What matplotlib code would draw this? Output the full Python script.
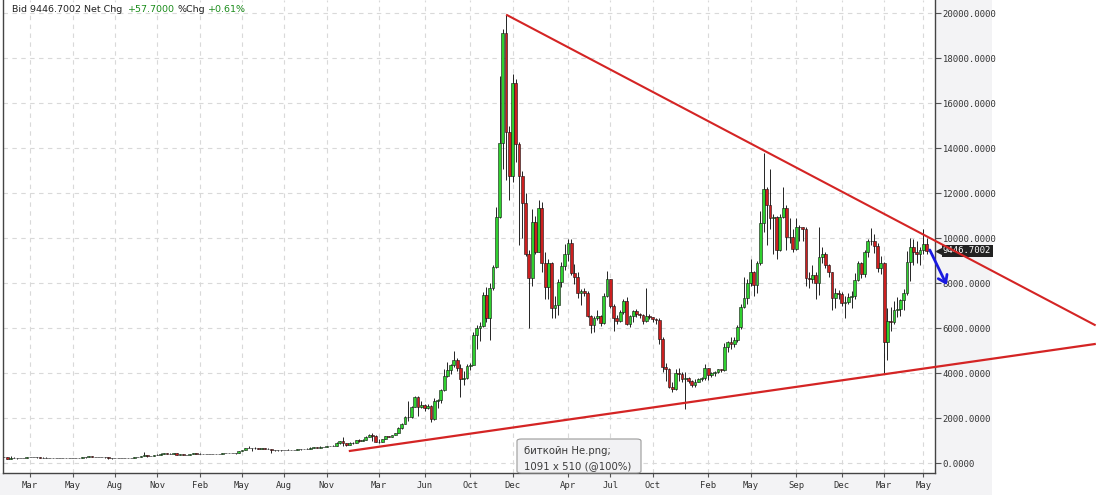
import matplotlib
matplotlib.use("Agg")
import matplotlib.pyplot as plt
import matplotlib.transforms as mtransforms
from matplotlib.patches import Rectangle, FancyBboxPatch

W, H = 1098, 495

# weekly candles (week index 0 = last week of Dec 2014), open = previous close
first_open = 317
closes = [
    264, 270, 205, 253, 227, 222, 235, 245, 275, 275,
    287, 261, 251, 255, 236, 223, 226, 240, 240, 237,
    240, 225, 228, 234, 245, 258, 272, 310, 275, 292,
    284, 265, 258, 230, 229, 240, 230, 232, 235, 240,
    247, 268, 285, 326, 385, 335, 325, 361, 390, 435,
    441, 422, 431, 448, 385, 402, 378, 375, 406, 437,
    433, 411, 415, 410, 416, 420, 419, 429, 460, 451,
    460, 456, 441, 527, 580, 690, 684, 665, 676, 650,
    667, 657, 624, 591, 570, 581, 574, 608, 609, 609,
    605, 614, 618, 641, 654, 701, 705, 702, 733, 735,
    764, 772, 790, 921, 998, 904, 820, 921, 915, 1022,
    998, 1051, 1150, 1270, 1230, 964, 960, 1083, 1194, 1180,
    1250, 1350, 1550, 1750, 2050, 2050, 2500, 2950, 2500, 2600,
    2450, 2550, 1950, 2750, 2800, 3250, 3900, 4150, 4350, 4600,
    4230, 3730, 3800, 4320, 4370, 5700, 6000, 6100, 7480, 6440,
    7780, 8740, 10960, 14250, 19140, 14740, 12780, 16890, 14190, 12780,
    11555, 9300, 8220, 10737, 9404, 11330, 8888, 7820, 8916, 6888,
    7035, 8071, 8768, 9301, 9777, 8443, 8293, 7583, 7657, 7583,
    6547, 6146, 6443, 6547, 6235, 7436, 8177, 6990, 6443, 6340,
    6740, 7214, 6176, 6547, 6784, 6636, 6590, 6340, 6547, 6490,
    6400, 6380, 5540, 4296, 4200, 3407, 3290, 4030, 3960, 3730,
    3790, 3650, 3460, 3600, 3730, 3780, 4253, 3925, 4000, 4070,
    4180, 4160, 5153, 5376, 5300, 5480, 6073, 6962, 7332, 8030,
    8520, 7920, 8888, 10693, 12178, 11480, 10890, 10960, 9480, 10960,
    11330, 10071, 10050, 9510, 10520, 10480, 10420, 8221, 8180, 8350,
    8000, 9183, 9300, 8813, 8490, 7333, 7555, 7540, 7140, 7180,
    7400, 7420, 8147, 8888, 8400, 9406, 9880, 9900, 9670, 8693,
    8916, 5377, 6325, 6290, 6818, 6860, 7259, 7555, 8933, 9630,
    9380, 9290, 9480, 9733, 9446.7,
]
highs = [
    320, 298, 272, 310, 265, 245, 242, 250, 282, 298,
    297, 294, 270, 263, 262, 237, 237, 242, 246, 245,
    243, 241, 232, 237, 254, 260, 274, 318, 315, 300,
    298, 286, 272, 262, 236, 242, 245, 236, 238, 242,
    250, 271, 290, 335, 502, 390, 337, 372, 408, 466,
    467, 462, 440, 460, 455, 410, 405, 380, 410, 440,
    445, 440, 423, 420, 420, 425, 425, 432, 464, 468,
    463, 462, 460, 530, 590, 700, 780, 690, 705, 680,
    680, 680, 660, 630, 600, 585, 590, 612, 630, 612,
    612, 618, 622, 645, 660, 705, 740, 725, 752, 742,
    772, 780, 800, 930, 1005, 1150, 910, 930, 925, 1035,
    1060, 1060, 1200, 1290, 1330, 1245, 1060, 1095, 1210, 1215,
    1260, 1360, 1600, 1800, 2100, 2790, 2550, 2980, 2980, 2780,
    2650, 2650, 2600, 2900, 2850, 3300, 4200, 4480, 4400, 4980,
    4700, 4400, 4100, 4400, 4450, 5850, 6150, 6300, 7600, 7850,
    8000, 8800, 11400, 17200, 19300, 19920, 15000, 17300, 17100, 14300,
    13000, 12000, 9500, 11300, 11000, 11700, 11600, 9400, 9100, 8950,
    7450, 8200, 8950, 9750, 9950, 9950, 8850, 8500, 7750, 7800,
    7650, 6600, 6550, 6800, 6600, 7550, 8560, 8200, 7100, 6600,
    6800, 7300, 7400, 6600, 6800, 6850, 6680, 6650, 7770, 6650,
    6500, 6450, 6450, 5600, 4450, 4250, 3600, 4200, 4250, 4050,
    4050, 3850, 3700, 3750, 3800, 3850, 4400, 4250, 4050, 4100,
    4200, 4200, 5350, 5450, 5600, 5600, 6150, 7100, 8300, 8200,
    9100, 8550, 9000, 11200, 13777, 12300, 13100, 11100, 11000, 11100,
    12300, 11500, 10900, 10400, 10900, 10600, 10500, 10500, 8500, 8800,
    8500, 10500, 9600, 9400, 8850, 8500, 7800, 7700, 7600, 7450,
    7550, 7650, 8450, 9000, 8950, 9500, 9950, 10470, 10200, 9800,
    9200, 8950, 6900, 6950, 7200, 7400, 7300, 7750, 9450, 10000,
    9950, 9900, 9600, 10400, 10000,
]
lows = [
    260, 262, 170, 200, 220, 212, 217, 230, 233, 268,
    270, 256, 237, 240, 234, 215, 217, 224, 233, 233,
    232, 222, 222, 226, 232, 242, 252, 265, 267, 273,
    275, 258, 253, 198, 200, 225, 225, 226, 226, 233,
    236, 245, 264, 282, 320, 300, 315, 320, 355, 386,
    430, 415, 418, 425, 362, 375, 362, 365, 372, 403,
    410, 403, 406, 405, 408, 412, 415, 418, 428, 447,
    440, 449, 435, 439, 526, 570, 680, 550, 620, 635,
    648, 652, 620, 480, 565, 565, 568, 570, 600, 602,
    595, 602, 605, 617, 635, 652, 685, 690, 700, 725,
    730, 755, 767, 788, 880, 760, 760, 820, 880, 908,
    950, 990, 1050, 1150, 975, 950, 890, 930, 1080, 1160,
    1175, 1240, 1340, 1540, 1740, 1900, 2020, 2480, 2100, 2450,
    2330, 2400, 1830, 1940, 2450, 2700, 3200, 3850, 3950, 4300,
    4100, 2960, 3500, 3750, 4150, 4350, 5100, 5450, 6050, 6300,
    5500, 7700, 8700, 10900, 13100, 12600, 11700, 12500, 13400, 9700,
    10000, 9200, 6000, 7900, 9300, 9400, 8500, 7300, 7300, 6450,
    6450, 6600, 7850, 8600, 9000, 8350, 7950, 7350, 7050, 7450,
    6500, 5800, 5850, 6350, 6100, 6200, 7400, 6900, 5900, 6200,
    6300, 6650, 6150, 6050, 6300, 6500, 6450, 6200, 6300, 6400,
    6300, 6200, 5300, 4050, 3650, 3350, 3150, 3250, 3650, 3600,
    2400, 3550, 3400, 3400, 3600, 3650, 3700, 3700, 3850, 3900,
    4000, 4050, 4100, 4950, 5100, 5150, 5400, 5950, 6900, 7100,
    7900, 7450, 7550, 8800, 10300, 9700, 10400, 9300, 9100, 9450,
    10900, 9500, 9800, 9400, 9500, 9900, 9900, 7900, 7800, 8000,
    7300, 7500, 8900, 8700, 8300, 6800, 6900, 7300, 7000, 6450,
    7100, 6900, 7300, 8100, 8250, 8300, 9150, 9700, 9350, 8500,
    8400, 4000, 4600, 5900, 6200, 6500, 6550, 6800, 7500, 8100,
    8800, 8900, 8800, 9300, 9300,
]

tick_weeks = [9, 22, 35, 48, 61, 74, 87, 100, 116, 130, 144, 157,
              174, 187, 200, 217, 230, 244, 258, 271, 283]
tick_labels = ["Mar", "May", "Aug", "Nov", "Feb", "May", "Aug", "Nov",
               "Mar", "Jun", "Oct", "Dec", "Apr", "Jul", "Oct", "Feb",
               "May", "Sep", "Dec", "Mar", "May"]
price_ticks = [0, 2000, 4000, 6000, 8000, 10000, 12000, 14000, 16000, 18000, 20000]

last_price = 9446.7002
net_chg = 57.7
pct_chg = 0.61

# hand drawn annotations: (week, price) end points
upper_trend = ([155.3, 335.6], [19920, 6150])
lower_trend = ([107.1, 335.6], [550, 5300])
arrow_from = (285.0, 9480)
arrow_to = (290.2, 7925)

opens = [first_open] + closes[:-1]
weeks = list(range(len(closes)))
up = [c >= o for o, c in zip(opens, closes)]
colors = ["#2fd02f" if u else "#cc1f1f" for u in up]
bottoms = [min(o, c) for o, c in zip(opens, closes)]
heights = [abs(c - o) for o, c in zip(opens, closes)]

mono = "DejaVu Sans Mono"

fig = plt.figure(figsize=(W / 100, H / 100), dpi=100)
fig.patch.set_facecolor("white")
# grey label strips
fig.add_artist(Rectangle((935 / W, 0), 57 / W, 1, transform=fig.transFigure,
                         fc="#f3f3f5", ec="none", zorder=-1))
fig.add_artist(Rectangle((0, 0), 935 / W, 22 / H, transform=fig.transFigure,
                         fc="#f3f3f5", ec="none", zorder=-1))

ax = fig.add_axes([3 / W, 22 / H, 932 / W, 1 - 22 / H])
ax.set_facecolor("white")

ax.vlines(weeks, lows, highs, color="black", lw=0.6, zorder=2)
ax.bar(weeks, heights, bottom=bottoms, width=0.86, color=colors,
       edgecolor="#111111", linewidth=0.4, zorder=3)

ax.set_xlim(0.67, 286.6)
ax.set_ylim(-431, 20590)

ax.set_xticks(tick_weeks)
ax.set_xticklabels(tick_labels, fontfamily=mono, fontsize=6.4, color="#333333")
ax.set_yticks(price_ticks)
ax.set_yticklabels([f"{v:.4f}" for v in price_ticks], fontfamily=mono,
                   fontsize=6.4, color="#333333")
ax.yaxis.tick_right()
ax.tick_params(axis="y", direction="out", length=4, width=0.8, color="#555555", pad=1.5)
ax.tick_params(axis="x", direction="out", length=3, width=0.8, color="#555555", pad=3)

ax.grid(True, color="#d9d9d9", linestyle=(0, (4, 4)), lw=0.8, zorder=0)
ax.set_axisbelow(True)
for side in ["left", "bottom", "right"]:
    ax.spines[side].set_color("#444444")
    ax.spines[side].set_linewidth(1.0)
ax.spines["top"].set_visible(False)

# trend lines
ax.plot(*upper_trend, color="#d42424", lw=1.5, clip_on=False, zorder=6)
ax.plot(*lower_trend, color="#d42424", lw=1.6, clip_on=False, zorder=6)

ax.annotate("", xy=arrow_to, xytext=arrow_from,
            arrowprops=dict(arrowstyle="->,head_length=0.5,head_width=0.35",
                            color="#1a1ae0", lw=2.0, shrinkA=0, shrinkB=0),
            annotation_clip=False, zorder=7)

# last price tag on the price axis
blend = mtransforms.blended_transform_factory(ax.transAxes, ax.transData)
ax.plot([1.0045], [last_price], marker="<", ms=5, color="#222222",
        transform=blend, clip_on=False, zorder=4)
ax.text(1.0085, last_price, f"{last_price:.4f}", transform=blend, ha="left",
        va="center", color="white", fontfamily=mono, fontsize=6.4, zorder=4,
        bbox=dict(boxstyle="square,pad=0.15", fc="#222222", ec="none"),
        clip_on=False)

# header
hy = 1 - 9 / H
fig.text(12 / W, hy, f"Bid {last_price:.4f} Net Chg", fontsize=6.8, color="#222222", va="center")
fig.text(128 / W, hy, f"+{net_chg:.4f}", fontsize=6.8, color="#1a8c1a", va="center")
fig.text(177 / W, hy, "%Chg", fontsize=6.8, color="#222222", va="center")
fig.text(208 / W, hy, f"+{pct_chg:.2f}%", fontsize=6.8, color="#1a8c1a", va="center")

# tooltip overlay
fig.add_artist(FancyBboxPatch((517 / W, (H - 473) / H), 124 / W, 34 / H,
                              boxstyle="round,pad=0,rounding_size=0.004",
                              transform=fig.transFigure, fc="#f2f2f4",
                              ec="#9a9a9a", lw=0.8, zorder=10))
fig.text(524 / W, 1 - 451 / H, "биткойн Не.png;", fontsize=7.3, color="#3a3a3a",
         va="center", zorder=11)
fig.text(524 / W, 1 - 466 / H, "1091 x 510 (@100%)", fontsize=7.3, color="#3a3a3a",
         va="center", zorder=11)

fig.savefig("out.png", dpi=100)
